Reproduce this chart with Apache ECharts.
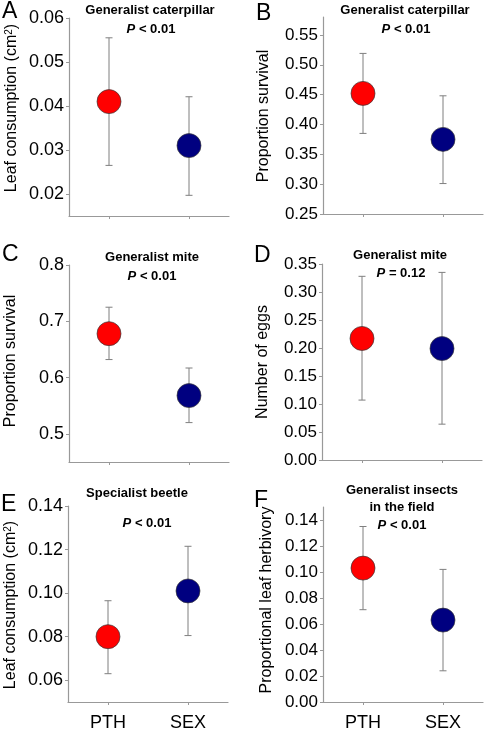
<!DOCTYPE html>
<html>
<head>
<meta charset="utf-8">
<script src="https://cdn.jsdelivr.net/npm/echarts@6/dist/echarts.min.js"></script>
<style>html,body{margin:0;padding:0;background:#fff}#c{width:484px;height:732px}</style>
</head>
<body>
<div id="c"></div>
<script>
const categories = ['PTH', 'SEX'];

// Panel A: generalist caterpillar, leaf consumption
const meanA = [0.041, 0.031];
const lowA = [0.0265, 0.0197];
const highA = [0.0555, 0.0421];
const ticksA = [0.02, 0.03, 0.04, 0.05, 0.06];

// Panel B: generalist caterpillar, proportion survival
const meanB = [0.452, 0.375];
const lowB = [0.385, 0.301];
const highB = [0.519, 0.448];
const ticksB = [0.25, 0.30, 0.35, 0.40, 0.45, 0.50, 0.55];

// Panel C: generalist mite, proportion survival
const meanC = [0.678, 0.568];
const lowC = [0.632, 0.520];
const highC = [0.725, 0.617];
const ticksC = [0.5, 0.6, 0.7, 0.8];

// Panel D: generalist mite, number of eggs
const meanD = [0.217, 0.199];
const lowD = [0.107, 0.064];
const highD = [0.328, 0.335];
const ticksD = [0.00, 0.05, 0.10, 0.15, 0.20, 0.25, 0.30, 0.35];

// Panel E: specialist beetle, leaf consumption
const meanE = [0.080, 0.101];
const lowE = [0.063, 0.0805];
const highE = [0.0965, 0.1215];
const ticksE = [0.06, 0.08, 0.10, 0.12, 0.14];

// Panel F: generalist insects in the field, proportional leaf herbivory
const meanF = [0.103, 0.063];
const lowF = [0.071, 0.024];
const highF = [0.135, 0.102];
const ticksF = [0.00, 0.02, 0.04, 0.06, 0.08, 0.10, 0.12, 0.14];

const pointColors = ['#ff0000', '#000080'];
const FONT = "'Liberation Sans', Arial, sans-serif";

const panels = [
  {mean: meanA, low: lowA, high: highA, ticks: ticksA, dec: 2, min: 0.015, max: 0.06,
   grid: {left: 69, top: 18, width: 160, height: 198}, xl: false, fs: 18},
  {mean: meanB, low: lowB, high: highB, ticks: ticksB, dec: 2, min: 0.25, max: 0.58,
   grid: {left: 323, top: 17, width: 160, height: 197}, xl: false, fs: 17},
  {mean: meanC, low: lowC, high: highC, ticks: ticksC, dec: 1, min: 0.45, max: 0.8,
   grid: {left: 69, top: 265, width: 160, height: 197}, xl: false, fs: 18},
  {mean: meanD, low: lowD, high: highD, ticks: ticksD, dec: 2, min: 0, max: 0.35,
   grid: {left: 322, top: 264, width: 160, height: 196}, xl: false, fs: 17},
  {mean: meanE, low: lowE, high: highE, ticks: ticksE, dec: 2, min: 0.05, max: 0.14,
   grid: {left: 68, top: 506, width: 160, height: 198}, xl: true, fs: 18},
  {mean: meanF, low: lowF, high: highF, ticks: ticksF, dec: 2, min: 0, max: 0.15,
   grid: {left: 323, top: 507, width: 160, height: 197}, xl: true, fs: 17}
];

const grids = [], xAxes = [], yAxes = [], series = [];
panels.forEach((p, i) => {
  grids.push(Object.assign({containLabel: false}, p.grid));
  xAxes.push({
    type: 'category', gridIndex: i, data: categories, boundaryGap: true,
    axisLine: {lineStyle: {color: '#999999', width: 1.2}},
    axisTick: {show: true, alignWithLabel: true, length: 3, lineStyle: {color: '#999999'}},
    axisLabel: {show: p.xl, color: '#000', fontFamily: FONT, fontSize: 18, margin: 12},
    splitLine: {show: false}
  });
  yAxes.push({
    type: 'value', gridIndex: i, min: p.min, max: p.max,
    axisLine: {show: true, lineStyle: {color: '#999999', width: 1.2}},
    axisTick: {show: true, length: 3, customValues: p.ticks, lineStyle: {color: '#999999'}},
    axisLabel: {show: true, customValues: p.ticks, color: '#000', fontFamily: FONT,
      fontSize: p.fs, margin: 5, formatter: v => Number(v).toFixed(p.dec)},
    splitLine: {show: false}
  });
  series.push({
    type: 'custom', xAxisIndex: i, yAxisIndex: i, z: 2,
    data: categories.map((c, j) => [j, p.low[j], p.high[j]]),
    renderItem: (params, api) => {
      const x = api.value(0);
      const lo = api.coord([x, api.value(1)]);
      const hi = api.coord([x, api.value(2)]);
      const st = {stroke: '#7f7f7f', lineWidth: 1};
      const hw = 3.5;
      return {type: 'group', children: [
        {type: 'line', shape: {x1: lo[0], y1: lo[1], x2: hi[0], y2: hi[1]}, style: st},
        {type: 'line', shape: {x1: lo[0] - hw, y1: lo[1], x2: lo[0] + hw, y2: lo[1]}, style: st},
        {type: 'line', shape: {x1: hi[0] - hw, y1: hi[1], x2: hi[0] + hw, y2: hi[1]}, style: st}
      ]};
    }
  });
  series.push({
    type: 'scatter', xAxisIndex: i, yAxisIndex: i, z: 3, symbolSize: 24,
    data: categories.map((c, j) => ({value: [j, p.mean[j]],
      itemStyle: {color: pointColors[j], borderColor: '#3a3a3a', borderWidth: 0.7, opacity: 1}})),
    emphasis: {disabled: true}
  });
});

const rich = {
  b: {fontFamily: FONT, fontSize: 13, fontWeight: 'bold', fill: '#000'},
  ip: {fontFamily: FONT, fontSize: 13, fontWeight: 'bold', fontStyle: 'italic', fill: '#000'}
};
function ttl(text, x, y) {
  return {type: 'text', x: x, y: y, style: {text: text, fontFamily: FONT, fontSize: 13,
    fontWeight: 'bold', fill: '#000', align: 'center', verticalAlign: 'middle'}};
}
function pval(text, x, y) {
  return {type: 'text', x: x, y: y, style: {text: '{ip|P}{b|' + text + '}', rich: rich,
    align: 'center', verticalAlign: 'middle'}};
}
function letter(t, x, y) {
  return {type: 'text', x: x, y: y, style: {text: t, fontFamily: FONT, fontSize: 23,
    fill: '#000', align: 'left', verticalAlign: 'middle'}};
}
function ytitle(text, x, y, fs) {
  return {type: 'text', x: x, y: y, rotation: Math.PI / 2,
    style: {text: text, rich: {n: {fontFamily: FONT, fontSize: fs, fill: '#000'},
      s: {fontFamily: FONT, fontSize: 10, fill: '#000', verticalAlign: 'top'}},
      align: 'center', verticalAlign: 'middle'}};
}

const graphic = [
  letter('A', 2, 12), letter('B', 256, 14), letter('C', 2, 255),
  letter('D', 254, 256), letter('E', 1, 505), letter('F', 254, 501),
  ytitle('{n|Leaf consumption (cm}{s|2}{n|)}', 12, 108, 16),
  ytitle('{n|Proportion survival}', 264, 116, 16),
  ytitle('{n|Proportion survival}', 11, 361, 16),
  ytitle('{n|Number of eggs}', 263, 362, 16),
  ytitle('{n|Leaf consumption (cm}{s|2}{n|)}', 11, 605, 16),
  ytitle('{n|Proportional leaf herbivory}', 267, 600, 16),
  ttl('Generalist caterpillar', 150, 10), pval(' < 0.01', 151, 29),
  ttl('Generalist caterpillar', 405, 10), pval(' < 0.01', 406, 29),
  ttl('Generalist mite', 152, 257), pval(' < 0.01', 152, 276),
  ttl('Generalist mite', 400, 255), pval(' = 0.12', 401, 273),
  ttl('Specialist beetle', 137, 493), pval(' < 0.01', 147, 523),
  ttl('Generalist insects', 402, 490), ttl('in the field', 402, 507), pval(' < 0.01', 402, 525)
];

const chart = echarts.init(document.getElementById('c'), null, {renderer: 'canvas'});
chart.setOption({
  backgroundColor: '#ffffff',
  animation: false,
  grid: grids, xAxis: xAxes, yAxis: yAxes, series: series,
  graphic: graphic
});
</script>
</body>
</html>
